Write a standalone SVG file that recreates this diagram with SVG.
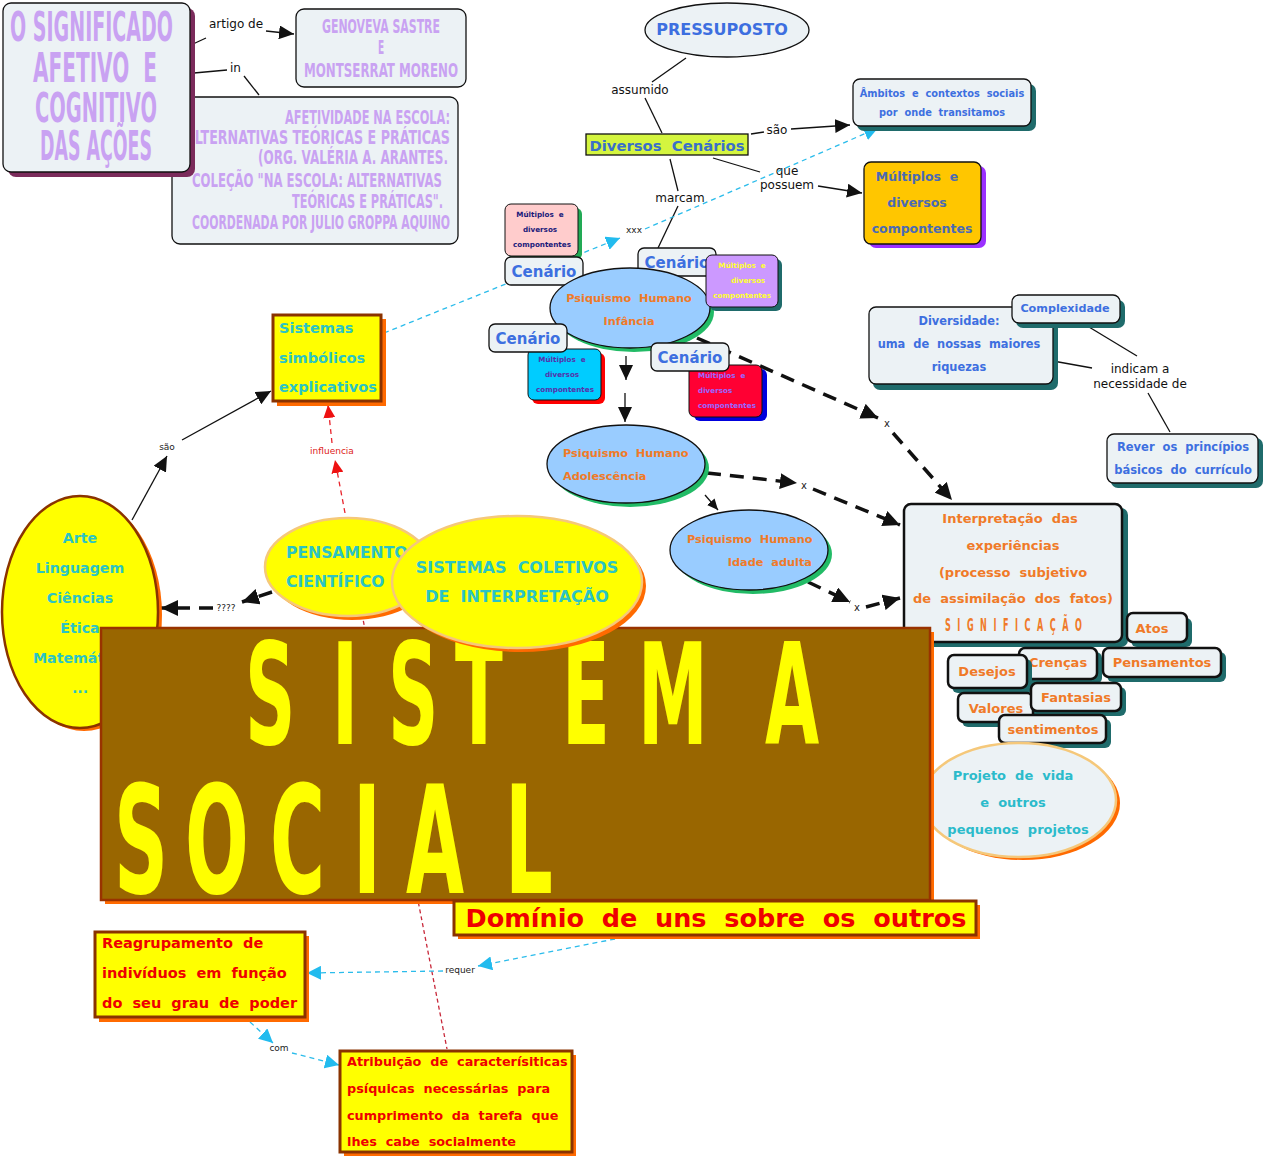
<svg xmlns="http://www.w3.org/2000/svg" width="1265" height="1158" viewBox="0 0 1265 1158">
<style>
text{white-space:pre;font-family:"DejaVu Sans","Liberation Sans",sans-serif}
.b{font-weight:bold}
.lab{font-size:12px;fill:#111}
.sl{font-size:9px;fill:#222}
.deco{font-family:"DejaVu Sans Condensed","DejaVu Sans",sans-serif;font-weight:bold;fill:#C9A2F2}
.pn{fill:#ECF2F5;stroke:#111;stroke-width:1.3}
.pn2{fill:#ECF2F5;stroke:#111;stroke-width:2.5}
.tsh{fill:#1F6B6B}
.yl{fill:#FFFF00;stroke:#8A3300;stroke-width:3}
.osh{fill:#FF6A00}
.blue{fill:#3D6FE0}
.or{fill:#F07A28}
.cy{fill:#2BC4C4}
.red{fill:#EE0000}
.c{text-anchor:middle}
.e{text-anchor:end}
.ln{fill:none;stroke:#111;stroke-width:1.3}
.dk{fill:none;stroke:#111;stroke-width:3.5;stroke-dasharray:14 9}
.cd{fill:none;stroke:#2BBCEB;stroke-width:1.3;stroke-dasharray:5 4}
.rd{fill:none;stroke:#E8242C;stroke-width:1.3;stroke-dasharray:5 4}
</style>
<defs>
<marker id="a" markerUnits="userSpaceOnUse" markerWidth="16" markerHeight="14" refX="15" refY="7" orient="auto"><path d="M0,0 L15,7 L0,14 z" fill="#111"/></marker>
<marker id="ab" markerUnits="userSpaceOnUse" markerWidth="18" markerHeight="16" refX="17" refY="8" orient="auto"><path d="M0,0 L17,8 L0,16 z" fill="#111"/></marker>
<marker id="as" markerUnits="userSpaceOnUse" markerWidth="12" markerHeight="10" refX="11" refY="5" orient="auto"><path d="M0,0 L11,5 L0,10 z" fill="#111"/></marker>
<marker id="ac" markerUnits="userSpaceOnUse" markerWidth="15" markerHeight="14" refX="14" refY="7" orient="auto"><path d="M0,0 L14,7 L0,14 z" fill="#22BBEE"/></marker>
<marker id="ar" markerUnits="userSpaceOnUse" markerWidth="14" markerHeight="12" refX="13" refY="6" orient="auto"><path d="M0,0 L13,6 L0,12 z" fill="#EE1111"/></marker>
</defs>
<rect width="1265" height="1158" fill="#fff"/>

<g id="connectors">
<line class="ln" x1="193" y1="44" x2="206" y2="38"/>
<text class="lab" x="209" y="28">artigo de</text>
<line class="ln" x1="266" y1="31" x2="294" y2="34" marker-end="url(#a)"/>
<line class="ln" x1="194" y1="73" x2="227" y2="70"/>
<text class="lab" x="230" y="72">in</text>
<line class="ln" x1="244" y1="76" x2="259" y2="95"/>
<line class="ln" x1="686" y1="58" x2="652" y2="82"/>
<text class="lab c" x="640" y="94">assumido</text>
<line class="ln" x1="645" y1="98" x2="662" y2="133"/>
<line class="ln" x1="751" y1="134" x2="764" y2="132"/>
<text class="lab c" x="777" y="134">são</text>
<line class="ln" x1="791" y1="129" x2="850" y2="125" marker-end="url(#a)"/>
<line class="ln" x1="713" y1="158" x2="760" y2="172"/>
<text class="lab c" x="787" y="175">que</text>
<text class="lab c" x="787" y="189">possuem</text>
<line class="ln" x1="818" y1="186" x2="862" y2="193" marker-end="url(#a)"/>
<line class="ln" x1="670" y1="159" x2="678" y2="191"/>
<text class="lab c" x="680" y="202">marcam</text>
<line class="ln" x1="678" y1="206" x2="658" y2="248"/>
<line class="cd" x1="384" y1="333" x2="620" y2="238" marker-end="url(#ac)"/>
<text class="sl c" x="634" y="233">xxx</text>
<line class="cd" x1="645" y1="229" x2="878" y2="128" marker-end="url(#ac)"/>
<line class="ln" x1="626" y1="356" x2="626" y2="380" marker-end="url(#a)"/>
<line class="ln" x1="625" y1="393" x2="625" y2="422" marker-end="url(#a)"/>
<line class="dk" x1="697" y1="338" x2="878" y2="418" marker-end="url(#ab)"/>
<text class="sl c" x="887" y="427" style="font-size:10px">x</text>
<line class="dk" x1="893" y1="433" x2="952" y2="500" marker-end="url(#ab)"/>
<line class="dk" x1="707" y1="473" x2="797" y2="483" marker-end="url(#ab)"/>
<text class="sl c" x="804" y="489" style="font-size:10px">x</text>
<line class="dk" x1="813" y1="489" x2="900" y2="525" marker-end="url(#ab)"/>
<line class="dk" x1="808" y1="582" x2="850" y2="602" marker-end="url(#ab)"/>
<text class="sl c" x="857" y="611" style="font-size:10px">x</text>
<line class="dk" x1="866" y1="607" x2="900" y2="598" marker-end="url(#ab)"/>
<line class="ln" x1="705" y1="495" x2="718" y2="510" marker-end="url(#as)"/>
<line class="ln" x1="1053" y1="361" x2="1092" y2="368"/>
<text class="lab c" x="1140" y="373">indicam a</text>
<text class="lab c" x="1140" y="388">necessidade de</text>
<line class="ln" x1="1089" y1="327" x2="1137" y2="356"/>
<line class="ln" x1="1148" y1="393" x2="1170" y2="432"/>
<line class="ln" x1="132" y1="520" x2="167" y2="456" marker-end="url(#a)"/>
<text class="sl c" x="167" y="450">são</text>
<line class="ln" x1="182" y1="440" x2="271" y2="391" marker-end="url(#a)"/>
<line class="rd" x1="345" y1="513" x2="335" y2="460" marker-end="url(#ar)"/>
<text class="sl c" x="332" y="454" style="fill:#D22">influencia</text>
<line class="rd" x1="332" y1="443" x2="328" y2="405" marker-end="url(#ar)"/>
<line class="dk" x1="272" y1="592" x2="242" y2="602" marker-end="url(#ab)"/>
<text class="sl c" x="226" y="611">????</text>
<line class="dk" x1="213" y1="608" x2="161" y2="608" marker-end="url(#ab)"/>
<line class="rd" x1="362" y1="614" x2="447" y2="1049" style="stroke:#C8283A;stroke-dasharray:4 3"/>
<line class="cd" x1="615" y1="939" x2="478" y2="966" marker-end="url(#ac)"/>
<text class="sl c" x="460" y="973">requer</text>
<line class="cd" x1="443" y1="971" x2="307" y2="973" marker-end="url(#ac)"/>
<line class="cd" x1="250" y1="1022" x2="273" y2="1043" marker-end="url(#ac)"/>
<text class="sl c" x="279" y="1051">com</text>
<line class="cd" x1="292" y1="1053" x2="339" y2="1065" marker-end="url(#ac)"/>
</g>

<g id="afetividade">
<rect class="pn" x="172" y="97" width="286" height="147" rx="8"/>
<g transform="scale(1,2)">
<text class="deco" font-size="9.5" x="285" y="62" textLength="165" lengthAdjust="spacingAndGlyphs">AFETIVIDADE NA ESCOLA:</text>
<text class="deco" font-size="9.5" x="185" y="72" textLength="265" lengthAdjust="spacingAndGlyphs">ALTERNATIVAS TEÓRICAS E PRÁTICAS</text>
<text class="deco" font-size="9.5" x="258" y="82" textLength="190" lengthAdjust="spacingAndGlyphs">(ORG. VALÉRIA A. ARANTES.</text>
<text class="deco" font-size="9.5" x="192" y="93.5" textLength="250" lengthAdjust="spacingAndGlyphs">COLEÇÃO "NA ESCOLA: ALTERNATIVAS</text>
<text class="deco" font-size="9.5" x="292" y="104" textLength="151" lengthAdjust="spacingAndGlyphs">TEÓRICAS E PRÁTICAS".</text>
<text class="deco" font-size="9.5" x="192" y="114.5" textLength="258" lengthAdjust="spacingAndGlyphs">COORDENADA POR JULIO GROPPA AQUINO</text>
</g>
</g>

<g id="titulo">
<rect x="8" y="8" width="187" height="169" rx="8" fill="#7B2B5B"/>
<rect class="pn" x="3" y="3" width="187" height="169" rx="8"/>
<g transform="scale(1,2)">
<text class="deco" font-size="20" x="10" y="20.5" textLength="163" lengthAdjust="spacingAndGlyphs">O SIGNIFICADO</text>
<text class="deco" font-size="20" x="33" y="41" textLength="124" lengthAdjust="spacingAndGlyphs">AFETIVO  E</text>
<text class="deco" font-size="20" x="35" y="61" textLength="122" lengthAdjust="spacingAndGlyphs">COGNITIVO</text>
<text class="deco" font-size="20" x="40" y="80" textLength="112" lengthAdjust="spacingAndGlyphs">DAS AÇÕES</text>
</g>
</g>

<g id="genoveva">
<rect class="pn" x="296" y="9" width="170" height="78" rx="8"/>
<g transform="scale(1,2)">
<text class="deco" font-size="10" x="322" y="16.5" textLength="118" lengthAdjust="spacingAndGlyphs">GENOVEVA SASTRE</text>
<text class="deco c" font-size="10" x="381" y="27">E</text>
<text class="deco" font-size="10" x="304" y="38.5" textLength="154" lengthAdjust="spacingAndGlyphs">MONTSERRAT MORENO</text>
</g>
</g>

<g id="pressuposto">
<ellipse cx="727" cy="30" rx="82" ry="27" fill="#ECF2F5" stroke="#111" stroke-width="1.3"/>
<text class="b blue c" font-size="16" x="722" y="35">PRESSUPOSTO</text>
</g>

<g id="diversos-cenarios">
<rect x="586" y="134" width="162" height="21" fill="#D4F53F" stroke="#111" stroke-width="1.3"/>
<text class="b c" font-size="14.8" x="667" y="151" fill="#3A6FC9">Diversos  Cenários</text>
</g>

<g id="ambitos">
<rect class="tsh" x="857" y="84" width="179" height="47" rx="7"/>
<rect class="pn" x="853" y="79" width="178" height="47" rx="7"/>
<text class="b blue c" font-size="9.8" x="942" y="97">Âmbitos  e  contextos  sociais</text>
<text class="b blue c" font-size="9.8" x="942" y="116">por  onde  transitamos</text>
</g>

<g id="multiplos-grande">
<rect x="869" y="166" width="117" height="82" rx="7" fill="#9B30FF"/>
<rect x="864" y="162" width="117" height="82" rx="7" fill="#FFC600" stroke="#111" stroke-width="1.3"/>
<text class="b c" font-size="12.5" x="917" y="181" fill="#4A6AB5">Múltiplos  e</text>
<text class="b c" font-size="12.5" x="917" y="207" fill="#4A6AB5">diversos</text>
<text class="b c" font-size="12.5" x="922" y="233" fill="#4A6AB5">compontentes</text>
</g>

<g id="multiplos-rosa">
<rect x="509" y="208" width="73" height="52" rx="6" fill="#22AA55"/>
<rect x="505" y="204" width="73" height="52" rx="6" fill="#FFCCCC" stroke="#111" stroke-width="1"/>
<text class="b c" font-size="7.2" x="540" y="217" fill="#1A1A7A">Múltiplos  e</text>
<text class="b c" font-size="7.2" x="540" y="232" fill="#1A1A7A">diversos</text>
<text class="b c" font-size="7.2" x="542" y="247" fill="#1A1A7A">compontentes</text>
</g>

<g id="cenario-1">
<rect class="pn" x="505" y="257" width="78" height="28" rx="6"/>
<text class="b blue c" font-size="15" x="544" y="277">Cenário</text>
</g>

<g id="cenario-2">
<rect class="pn" x="638" y="248" width="78" height="28" rx="6"/>
<text class="b blue c" font-size="15" x="677" y="268">Cenário</text>
</g>

<g id="infancia">
<ellipse cx="634" cy="312" rx="80" ry="40" fill="#22BB66"/>
<ellipse cx="630" cy="308" rx="80" ry="40" fill="#99CCFF" stroke="#111" stroke-width="1.3"/>
<text class="b or c" font-size="11.3" x="629" y="302">Psiquismo  Humano</text>
<text class="b or c" font-size="11.3" x="629" y="325">Infância</text>
</g>

<g id="multiplos-roxo">
<rect x="710" y="259" width="72" height="52" rx="6" fill="#1F6B6B"/>
<rect x="706" y="255" width="72" height="52" rx="6" fill="#CC99FF" stroke="#111" stroke-width="1"/>
<text class="b c" font-size="7.2" x="742" y="268" fill="#FFFF33">Múltiplos  e</text>
<text class="b c" font-size="7.2" x="748" y="283" fill="#FFFF33">diversos</text>
<text class="b c" font-size="7.2" x="742" y="298" fill="#FFFF33">compontentes</text>
</g>

<g id="multiplos-ciano">
<rect x="532" y="353" width="73" height="51" rx="6" fill="#FF0000"/>
<rect x="528" y="349" width="73" height="51" rx="6" fill="#00CCFF" stroke="#111" stroke-width="1"/>
<text class="b c" font-size="7.2" x="562" y="362" fill="#5533AA">Múltiplos  e</text>
<text class="b c" font-size="7.2" x="562" y="377" fill="#5533AA">diversos</text>
<text class="b c" font-size="7.2" x="565" y="392" fill="#5533AA">compontentes</text>
</g>

<g id="cenario-3">
<rect class="pn" x="489" y="324" width="78" height="28" rx="6"/>
<text class="b blue c" font-size="15" x="528" y="344">Cenário</text>
</g>

<g id="multiplos-vermelho">
<rect x="694" y="369" width="73" height="52" rx="6" fill="#0000DD"/>
<rect x="689" y="365" width="73" height="52" rx="6" fill="#FF0033" stroke="#111" stroke-width="1"/>
<text class="b" font-size="7.2" x="698" y="378" fill="#9966FF">Múltiplos  e</text>
<text class="b" font-size="7.2" x="698" y="393" fill="#9966FF">diversos</text>
<text class="b" font-size="7.2" x="698" y="408" fill="#9966FF">compontentes</text>
</g>

<g id="cenario-4">
<rect class="pn" x="651" y="343" width="78" height="28" rx="6"/>
<text class="b blue c" font-size="15" x="690" y="363">Cenário</text>
</g>

<g id="adolescencia">
<ellipse cx="630" cy="468" rx="79" ry="39" fill="#22BB66"/>
<ellipse cx="626" cy="464" rx="79" ry="39" fill="#99CCFF" stroke="#111" stroke-width="1.3"/>
<text class="b or" font-size="11.3" x="563" y="457">Psiquismo  Humano</text>
<text class="b or" font-size="11.3" x="563" y="480">Adolescência</text>
</g>

<g id="idade-adulta">
<ellipse cx="753" cy="554" rx="79" ry="40" fill="#22BB66"/>
<ellipse cx="749" cy="550" rx="79" ry="40" fill="#99CCFF" stroke="#111" stroke-width="1.3"/>
<text class="b or" font-size="11.3" x="687" y="543">Psiquismo  Humano</text>
<text class="b or e" font-size="11.3" x="812" y="566">Idade  adulta</text>
</g>

<g id="diversidade">
<rect class="tsh" x="873" y="312" width="185" height="78" rx="7"/>
<rect class="pn" x="869" y="307" width="184" height="77" rx="7"/>
<text class="b blue c" font-size="11.4" x="959" y="325">Diversidade:</text>
<text class="b blue c" font-size="11.4" x="959" y="348">uma  de  nossas  maiores</text>
<text class="b blue c" font-size="11.4" x="959" y="371">riquezas</text>
</g>

<g id="complexidade">
<rect class="tsh" x="1016" y="300" width="109" height="28" rx="7"/>
<rect class="pn" x="1012" y="295" width="108" height="28" rx="7"/>
<text class="b blue c" font-size="11.2" x="1065" y="312">Complexidade</text>
</g>

<g id="rever">
<rect class="tsh" x="1111" y="438" width="152" height="50" rx="7"/>
<rect class="pn" x="1107" y="434" width="151" height="49" rx="7"/>
<text class="b blue c" font-size="11.5" x="1183" y="451">Rever  os  princípios</text>
<text class="b blue c" font-size="11.5" x="1183" y="474">básicos  do  currículo</text>
</g>

<g id="interpretacao">
<rect class="tsh" x="908" y="508" width="220" height="139" rx="7"/>
<rect class="pn2" x="904" y="504" width="218" height="138" rx="7"/>
<text class="b or c" font-size="13" x="1010" y="523">Interpretação  das</text>
<text class="b or c" font-size="13" x="1013" y="550">experiências</text>
<text class="b or c" font-size="13" x="1013" y="577">(processo  subjetivo</text>
<text class="b or c" font-size="13" x="1013" y="603">de  assimilação  dos  fatos)</text>
<text class="deco" font-size="9" x="945" y="315.5" transform="scale(1,2)" textLength="137" lengthAdjust="spacing" style="fill:#F07A28">SIGNIFICAÇÃO</text>
</g>

<g id="atos">
<rect class="tsh" x="1131" y="618" width="61" height="29" rx="6"/>
<rect class="pn2" x="1127" y="613" width="60" height="29" rx="6"/>
<text class="b or c" font-size="13" x="1152" y="633">Atos</text>
</g>

<g id="crencas">
<rect class="tsh" x="1023" y="652" width="79" height="32" rx="6"/>
<rect class="pn2" x="1019" y="648" width="78" height="31" rx="6"/>
<text class="b or c" font-size="13" x="1058" y="667">Crenças</text>
</g>

<g id="desejos">
<rect class="tsh" x="952" y="659" width="80" height="34" rx="6"/>
<rect class="pn2" x="948" y="655" width="79" height="33" rx="6"/>
<text class="b or c" font-size="13" x="987" y="676">Desejos</text>
</g>

<g id="pensamentos">
<rect class="tsh" x="1107" y="652" width="119" height="30" rx="6"/>
<rect class="pn2" x="1103" y="648" width="118" height="29" rx="6"/>
<text class="b or c" font-size="13" x="1162" y="667">Pensamentos</text>
</g>

<g id="valores">
<rect class="tsh" x="962" y="697" width="76" height="30" rx="6"/>
<rect class="pn2" x="958" y="693" width="75" height="29" rx="6"/>
<text class="b or c" font-size="13" x="996" y="713">Valores</text>
</g>

<g id="fantasias">
<rect class="tsh" x="1035" y="687" width="91" height="29" rx="6"/>
<rect class="pn2" x="1031" y="683" width="90" height="28" rx="6"/>
<text class="b or c" font-size="13" x="1076" y="702">Fantasias</text>
</g>

<g id="sentimentos">
<rect class="tsh" x="1003" y="719" width="108" height="29" rx="6"/>
<rect class="pn2" x="999" y="715" width="107" height="28" rx="6"/>
<text class="b or c" font-size="13" x="1053" y="734">sentimentos</text>
</g>

<g id="projeto">
<ellipse cx="1023" cy="803" rx="97" ry="57" fill="#FF6A00"/>
<ellipse cx="1019" cy="800" rx="97" ry="57" fill="#ECF2F5" stroke="#F5C87A" stroke-width="2.5"/>
<text class="b c" font-size="13" x="1013" y="780" fill="#2BBBCB">Projeto  de  vida</text>
<text class="b c" font-size="13" x="1013" y="807" fill="#2BBBCB">e  outros</text>
<text class="b c" font-size="13" x="1018" y="834" fill="#2BBBCB">pequenos  projetos</text>
</g>

<g id="sistemas-simbolicos">
<rect class="osh" x="277" y="319" width="109" height="87"/>
<rect class="yl" x="273" y="315" width="108" height="86"/>
<text class="b cy" font-size="14.5" x="279" y="333">Sistemas</text>
<text class="b cy" font-size="14.5" x="279" y="363">simbólicos</text>
<text class="b cy" font-size="14.5" x="279" y="392">explicativos</text>
</g>

<g id="arte">
<ellipse cx="84" cy="615" rx="78" ry="116" fill="#FF6A00"/>
<ellipse cx="80" cy="612" rx="78" ry="116" fill="#FFFF00" stroke="#8A3300" stroke-width="2.5"/>
<text class="b cy c" font-size="14.2" x="80" y="543">Arte</text>
<text class="b cy c" font-size="14.2" x="80" y="573">Linguagem</text>
<text class="b cy c" font-size="14.2" x="80" y="603">Ciências</text>
<text class="b cy c" font-size="14.2" x="80" y="633">Ética</text>
<text class="b cy c" font-size="14.2" x="80" y="663">Matemática</text>
<text class="b cy c" font-size="14.2" x="80" y="693">...</text>
</g>

<g id="pensamento-cientifico">
<ellipse cx="352" cy="571" rx="83" ry="49" fill="#FF6A00"/>
<ellipse cx="348" cy="567" rx="83" ry="49" fill="#FFFF00" stroke="#F5C87A" stroke-width="2.5"/>
<text class="b cy" font-size="15.6" x="286" y="558">PENSAMENTO</text>
<text class="b cy" font-size="15.6" x="286" y="587">CIENTÍFICO</text>
</g>

<g id="sistema-social">
<rect class="osh" x="105" y="632" width="829" height="272"/>
<rect x="101" y="628" width="829" height="272" fill="#996600" stroke="#993300" stroke-width="2.5"/>
<text transform="scale(0.5,1)" font-size="140" font-weight="bold" fill="#FFFF00" x="490 664 776 910 1124 1276 1530" y="744">SISTEMA</text>
<text transform="scale(0.5,1)" font-size="150" font-weight="bold" fill="#FFFF00" x="228 370 540 706 812 1010" y="893">SOCIAL</text>
</g>

<g id="sistemas-coletivos">
<ellipse cx="521" cy="586" rx="125" ry="66" fill="#FF6A00"/>
<ellipse cx="517" cy="582" rx="125" ry="66" fill="#FFFF00" stroke="#F5C87A" stroke-width="2.5"/>
<text class="b cy c" font-size="16" x="517" y="573">SISTEMAS  COLETIVOS</text>
<text class="b cy c" font-size="16" x="517" y="602">DE  INTERPRETAÇÃO</text>
</g>

<g id="dominio">
<rect class="osh" x="458" y="905" width="522" height="34"/>
<rect class="yl" x="454" y="901" width="522" height="34"/>
<text class="b red c" font-size="25.5" x="716" y="927">Domínio  de  uns  sobre  os  outros</text>
</g>

<g id="reagrupamento">
<rect class="osh" x="99" y="936" width="210" height="86"/>
<rect class="yl" x="95" y="932" width="210" height="85"/>
<text class="b red" font-size="14.5" x="102" y="948">Reagrupamento  de</text>
<text class="b red" font-size="14.5" x="102" y="978">indivíduos  em  função</text>
<text class="b red" font-size="14.5" x="102" y="1008">do  seu  grau  de  poder</text>
</g>

<g id="atribuicao">
<rect class="osh" x="344" y="1055" width="232" height="101"/>
<rect class="yl" x="340" y="1051" width="232" height="101"/>
<text class="b red" font-size="12.8" x="347" y="1066">Atribuição  de  caracterísiticas</text>
<text class="b red" font-size="12.8" x="347" y="1093">psíquicas  necessárias  para</text>
<text class="b red" font-size="12.8" x="347" y="1120">cumprimento  da  tarefa  que</text>
<text class="b red" font-size="12.8" x="347" y="1146">lhes  cabe  socialmente</text>
</g>
</svg>
